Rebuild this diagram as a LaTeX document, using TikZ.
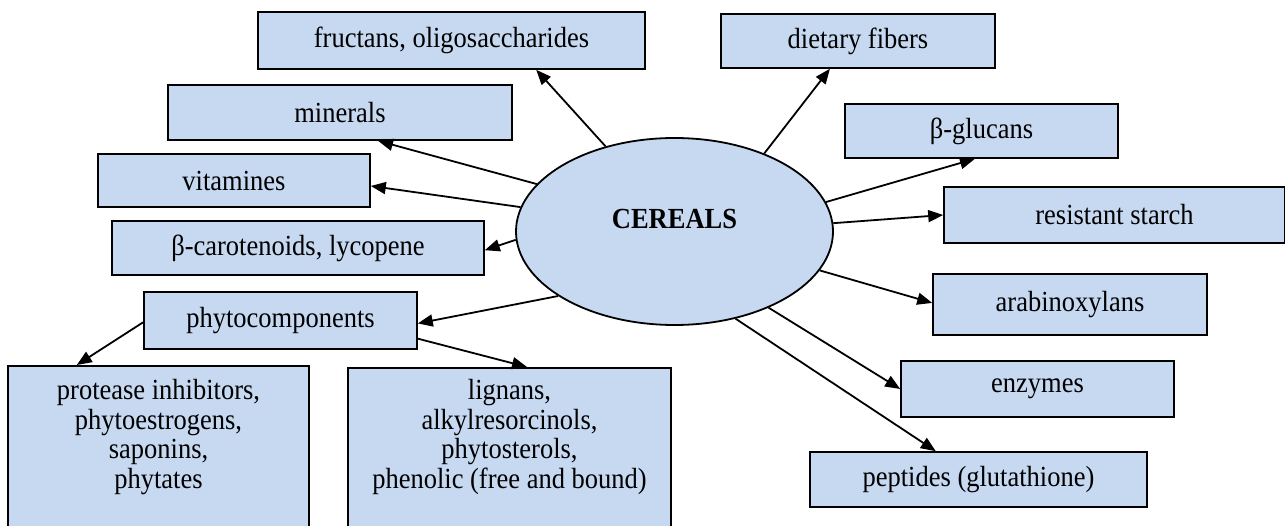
\documentclass[tikz,border=0pt]{standalone}
\usepackage{graphicx}
\usepackage{fontspec}
\setmainfont{Liberation Serif}
\usetikzlibrary{shapes.geometric,arrows.meta,calc}
\definecolor{boxfill}{HTML}{C6D9F1}
\newcommand\vstr[1]{\scalebox{1}[1.1]{#1}}
\newcommand\vstack[1]{\vstr{\begin{tabular}{@{}c@{}}#1\end{tabular}}}
\begin{document}
\begin{tikzpicture}[x=1pt,y=-1pt,
  every node/.style={font=\fontsize{26.5}{29.5}\selectfont},
  box/.style={draw=black, line width=1.6pt, fill=boxfill, rectangle, inner sep=0pt},
  multibox/.style={box, anchor=north, text depth=200pt, font=\fontsize{26.5}{26.8}\selectfont},
  arr/.style={line width=1.8pt, -{Triangle[length=15pt,width=12pt]}}]
\useasboundingbox (0,0) rectangle (1285,526);
\clip (0,0) rectangle (1285,526);
% boxes
\node[box, minimum width=387pt, minimum height=57pt] (fru) at (451.5,40.5) {\vstr{fructans, oligosaccharides}};
\node[box, minimum width=274pt, minimum height=54pt] (die) at (858,41) {\vstr{dietary fibers}};
\node[box, minimum width=344pt, minimum height=55pt] (min) at (340,112.5) {\vstr{minerals}};
\node[box, minimum width=273pt, minimum height=54pt] (glu) at (981.5,131) {\vstr{β-glucans}};
\node[box, minimum width=272pt, minimum height=53pt] (vit) at (234,180.5) {\vstr{vitamines}};
\node[box, minimum width=341pt, minimum height=56pt] (rs) at (1114.5,215) {\vstr{resistant starch}};
\node[box, minimum width=372pt, minimum height=54pt] (car) at (298,248) {\vstr{β-carotenoids, lycopene}};
\node[box, minimum width=274pt, minimum height=61pt] (ara) at (1070,304.5) {\vstr{arabinoxylans}};
\node[box, minimum width=273pt, minimum height=57pt] (phy) at (280.5,320.5) {\vstr{phytocomponents}};
\node[box, minimum width=273pt, minimum height=56pt] (enz) at (1037.5,389) {\vstr{enzymes}};
\node[box, minimum width=337pt, minimum height=55pt] (pep) at (978.5,479.5) {\vstr{peptides (glutathione)}};
\node[multibox, minimum width=301pt, inner ysep=13.4pt] (prot) at (158.5,365)
  {\vstack{protease inhibitors,\\ phytoestrogens,\\ saponins,\\ phytates}};
\node[multibox, minimum width=323pt, inner ysep=11.4pt] (lig) at (509.5,367)
  {\vstack{lignans,\\ alkylresorcinols,\\ phytosterols,\\ phenolic (free and bound)}};
% centre
\node[ellipse, draw=black, line width=1.8pt, fill=boxfill, minimum width=317pt, minimum height=187pt,
  inner sep=0pt, text height=18pt, text depth=23pt,
  font=\bfseries\fontsize{26.5}{29.5}\selectfont] (cer) at (674.5,231.5) {\vstr{CEREALS}};
% arrows
\draw[arr] (cer.129) -- ($(fru.south west)!0.718!(fru.south east)$);
\draw[arr] (cer.41) -- ($(die.south west)!0.398!(die.south east)$);
\draw[arr] (cer.161) -- ($(min.south west)!0.61!(min.south east)$);
\draw[arr] (cer.171) -- ($(vit.north east)!0.6!(vit.south east)$);
\draw[arr] (cer.183) -- ($(car.north east)!0.54!(car.south east)$);
\draw[arr] (cer.11) -- ($(glu.south west)!0.476!(glu.south east)$);
\draw[arr] (cer.3) -- (rs.west);
\draw[arr] (cer.345) -- ($(ara.north west)!0.475!(ara.south west)$);
\draw[arr] (cer.321) -- (enz.west);
\draw[arr] (cer.305) -- ($(pep.north west)!0.374!(pep.north east)$);
\draw[arr] (cer.209) -- ($(phy.north east)!0.55!(phy.south east)$);
\draw[arr] ($(phy.north west)!0.53!(phy.south west)$) -- ($(prot.north west)!0.23!(prot.north east)$);
\draw[arr] ($(phy.north east)!0.81!(phy.south east)$) -- ($(lig.north west)!0.554!(lig.north east)$);
\end{tikzpicture}
\end{document}
